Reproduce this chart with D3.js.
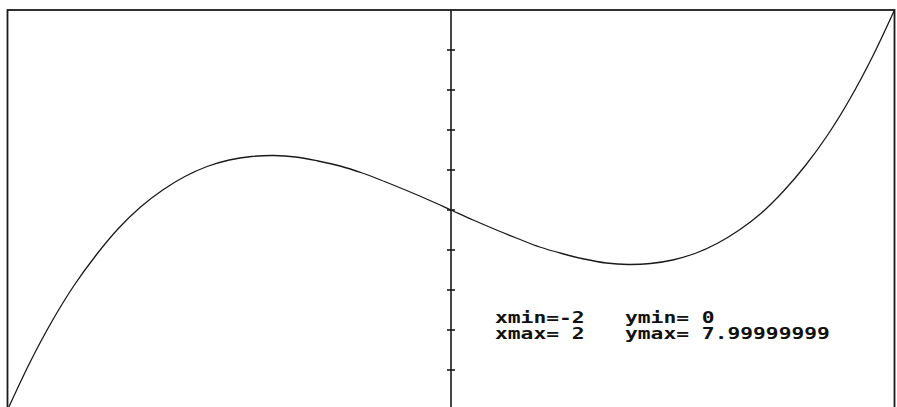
<!DOCTYPE html>
<html>
<head>
<meta charset="utf-8">
<script src="https://cdn.jsdelivr.net/npm/d3@7"></script>
<style>
  body { margin: 0; background: #fff; }
  svg { display: block; }
  .info { font-family: "DejaVu Sans Mono", monospace; font-weight: bold; font-size: 14px; fill: #111; }
</style>
</head>
<body>
<svg id="plot" width="897" height="407"></svg>
<script>
// values
let xs = [-2.0, -1.9, -1.8, -1.7, -1.6, -1.5, -1.4, -1.3, -1.2, -1.1, -1.0,
          -0.9, -0.8, -0.7, -0.6, -0.5, -0.4, -0.3, -0.2, -0.1, 0.0,
          0.1, 0.2, 0.3, 0.4, 0.5, 0.6, 0.7, 0.8, 0.9, 1.0,
          1.1, 1.2, 1.3, 1.4, 1.5, 1.6, 1.7, 1.8, 1.9, 2.0];
let ys = [0.00, 0.94, 1.77, 2.49, 3.10, 3.63, 4.06, 4.40, 4.67, 4.87, 5.00,
          5.07, 5.09, 5.06, 4.98, 4.88, 4.74, 4.57, 4.39, 4.20, 4.00,
          3.80, 3.61, 3.43, 3.26, 3.13, 3.02, 2.94, 2.91, 2.93, 3.00,
          3.13, 3.33, 3.60, 3.94, 4.38, 4.90, 5.51, 6.23, 7.06, 8.00];
let y_ticks = [0.8, 1.6, 2.4, 3.2, 4.0, 4.8, 5.6, 6.4, 7.2];
let info_left = ["xmin=-2", "xmax= 2"];
let info_right = ["ymin= 0", "ymax= 7.99999999"];

let svg = d3.select("#plot");

let frame = { left: 7.5, right: 894.5, top: 10, bottom: 410 };

let scale_x = d3.scaleLinear()
  .domain([-2, 2])
  .range([frame.left, frame.right]);
let scale_y = d3.scaleLinear()
  .domain([0, 8])
  .range([frame.bottom, frame.top]);

// frame
svg.append("rect")
  .attr("x", frame.left)
  .attr("y", frame.top)
  .attr("width", frame.right - frame.left)
  .attr("height", frame.bottom - frame.top)
  .attr("fill", "none")
  .attr("stroke", "#1a1a1a")
  .attr("stroke-width", 1.8);

// y axis at x = 0
svg.append("line")
  .attr("x1", scale_x(0)).attr("x2", scale_x(0))
  .attr("y1", frame.top).attr("y2", frame.bottom)
  .attr("stroke", "#1a1a1a")
  .attr("stroke-width", 1.6);

svg.append("g")
  .selectAll("line")
  .data(y_ticks)
  .join("line")
  .attr("x1", scale_x(0) - 4)
  .attr("x2", scale_x(0) + 4)
  .attr("y1", d => scale_y(d))
  .attr("y2", d => scale_y(d))
  .attr("stroke", "#1a1a1a")
  .attr("stroke-width", 1.6);

// curve
let points = xs.map((x, i) => ({ x: x, y: ys[i] }));
let curve = d3.line()
  .x(d => scale_x(d.x))
  .y(d => scale_y(d.y))
  .curve(d3.curveCatmullRom);

svg.append("path")
  .datum(points)
  .attr("d", curve)
  .attr("fill", "none")
  .attr("stroke", "#1a1a1a")
  .attr("stroke-width", 1.3);

// range info
let info = svg.append("g").attr("class", "info");
function add_column(lines, x) {
  lines.forEach((txt, i) => {
    info.append("text")
      .attr("transform", "translate(" + x + "," + (323 + i * 16) + ") scale(1.52,1.1)")
      .attr("xml:space", "preserve")
      .style("white-space", "pre")
      .text(txt);
  });
}
add_column(info_left, 495);
add_column(info_right, 625);
</script>
</body>
</html>
